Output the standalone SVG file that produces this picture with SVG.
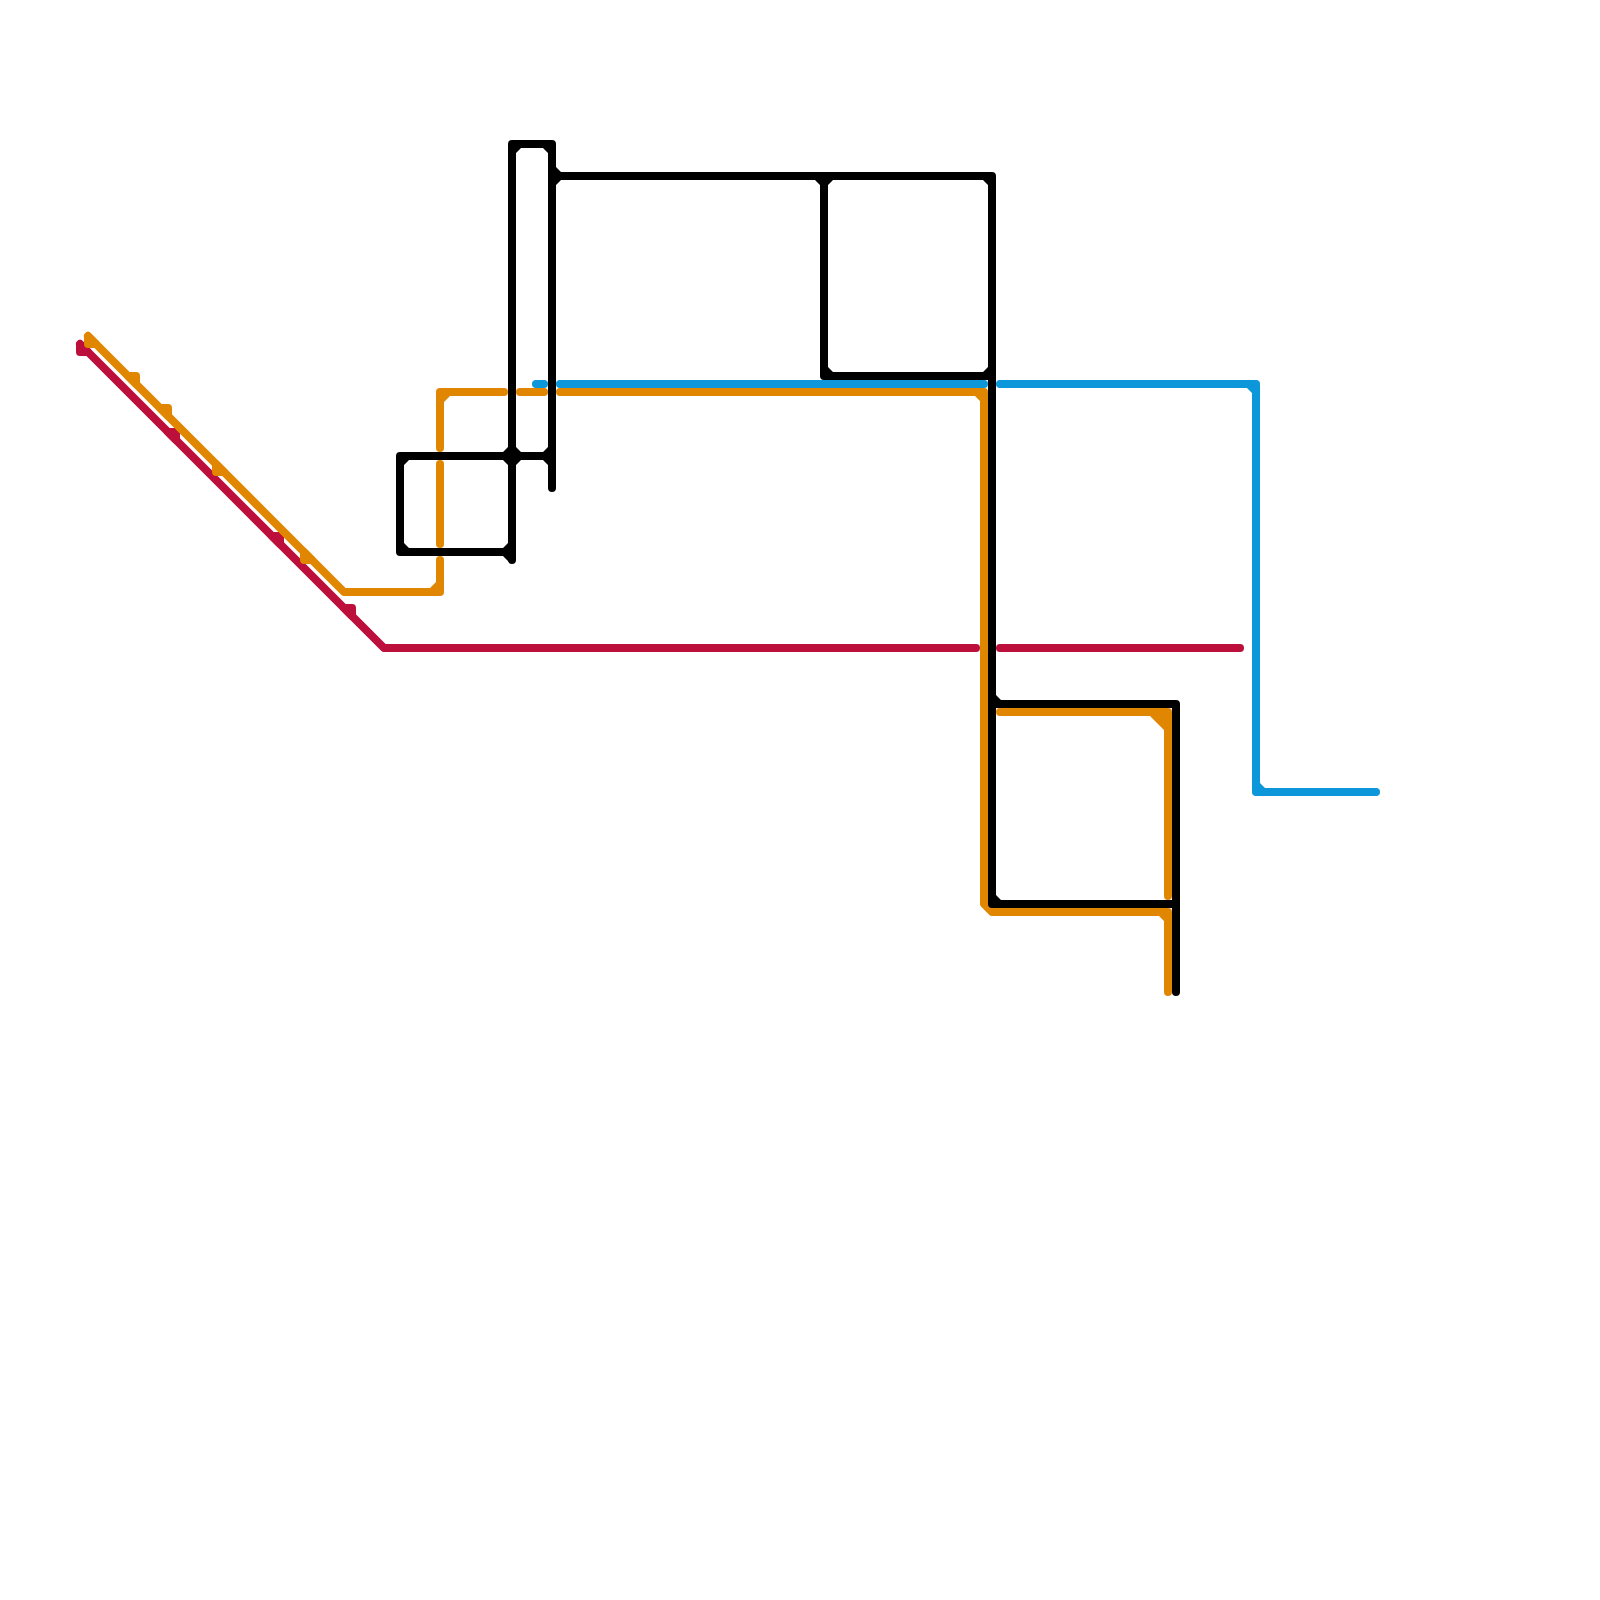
<svg xmlns="http://www.w3.org/2000/svg" width="1600" height="1600" viewBox="0 0 1600 1600">
<style>
.l{fill:none;stroke-width:8;stroke-linecap:round;stroke-linejoin:round}
.m{fill:none;stroke-width:8;stroke-linecap:round;stroke-linejoin:round}
.orange{stroke:#e08600}.red{stroke:#bd0f3b}.blue{stroke:#0b97d9}.black{stroke:#000}
.fo{fill:#e08600}.fk{fill:#000}.fb{fill:#0b97d9}
</style>
<rect width="1600" height="1600" fill="#fff"/>
<g id="connectors">
<g id="line-red">
<path class="l red" d="M80 344L384 648H976"/>
<path class="l red" d="M1000 648H1240"/>
<path class="m red" d="M80 344V352H88Z M168 432H176V440Z M272 536H280V544Z M344 608H352V616Z"/>
</g>
<g id="line-orange">
<path class="l orange" d="M88 336L344 592H440V560"/>
<path class="l orange" d="M440 544V464"/>
<path class="l orange" d="M440 448V392H504"/>
<path class="l orange" d="M520 392H544"/>
<path class="l orange" d="M560 392H984V904L992 912H1168V992"/>
<path class="l orange" d="M1000 712H1168V896"/>
<path class="m orange" d="M88 336V344H96Z M128 376H136V384Z M160 408H168V416Z M216 464V472H224Z M304 552V560H312Z"/>
<path class="fo" d="M436 588H430L436 582Z M444 396H450L444 402Z M980 396H975L980 401Z M1164 716H1150L1164 730Z M1164 916H1159L1164 921Z"/>
</g>
<g id="line-blue">
<path class="l blue" d="M536 384H544"/>
<path class="l blue" d="M560 384H984"/>
<path class="l blue" d="M1000 384H1256V792H1376"/>
<path class="fb" d="M1252 388H1247L1252 393Z M1260 788V783L1265 788Z"/>
</g>
<g id="line-black">
<path class="l black" d="M552 488V144H512V560"/>
<path class="l black" d="M552 456H400V552H512"/>
<path class="l black" d="M552 176H992V904H1176"/>
<path class="l black" d="M824 176V376H992"/>
<path class="l black" d="M992 704H1176V992"/>
<path class="fk" d="M516 148V153L521 148Z M548 148V153L543 148Z
M556 172V167L561 172Z M556 180V185L561 180Z
M820 180V185L815 180Z M828 180V185L833 180Z
M988 180V185L983 180Z M828 372V367L833 372Z M988 372V367L983 372Z
M508 452V447L503 452Z M516 452V447L521 452Z M508 460V465L503 460Z M516 460V465L521 460Z
M548 452V447L543 452Z M548 460V465L543 460Z
M404 460V465L409 460Z M404 548V543L409 548Z
M508 548V543L503 548Z M508 556H503L510 563Z
M996 700V695L1001 700Z M996 900V895L1001 900Z"/>
</g>
</g>
</svg>
